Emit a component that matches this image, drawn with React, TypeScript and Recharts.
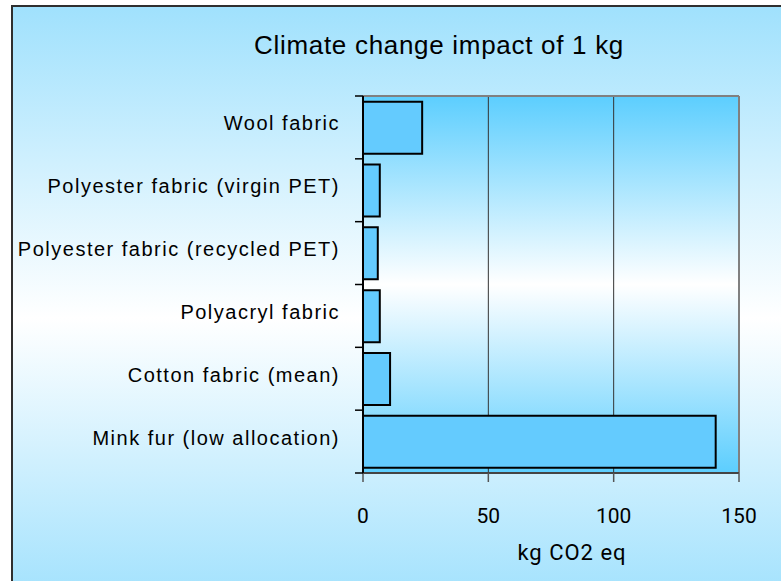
import React from 'react';
import { BarChart, Bar, XAxis, YAxis, CartesianGrid } from 'recharts';

const categories = [
  'Wool fabric',
  'Polyester fabric (virgin PET)',
  'Polyester fabric (recycled PET)',
  'Polyacryl fabric',
  'Cotton fabric (mean)',
  'Mink fur (low allocation)',
];
const values = [23.6, 6.7, 5.9, 6.7, 10.8, 140.7];
const xTicks = [0, 50, 100, 150];
const title = 'Climate change impact of 1 kg';
const xLabel = 'kg CO2 eq';

const data = categories.map((name, i) => ({ name, value: values[i] }));

const LABEL_GAP = 23;
const TICK_LEN = 8;

const YTick = (props: any) => {
  const { x, y, payload, index, visibleTicksCount } = props;
  const half = payload && payload.offset ? payload.offset : 0;
  const axisX = x + LABEL_GAP;
  const isLast = index === (visibleTicksCount ?? 0) - 1;
  return (
    <g>
      <line x1={axisX - TICK_LEN} x2={axisX} y1={y - half} y2={y - half} stroke="#000" strokeWidth={1.5} />
      {isLast && (
        <line x1={axisX - TICK_LEN} x2={axisX} y1={y + half} y2={y + half} stroke="#000" strokeWidth={1.5} />
      )}
      <text
        x={x}
        y={y}
        dy={3}
        textAnchor="end"
        fontSize={20}
        fontFamily="Liberation Sans"
        letterSpacing={1.5}
        fill="#000"
      >
        {payload.value}
      </text>
    </g>
  );
};

const rightEdge = ({ offset }: any) => [offset.left + offset.width];
const topEdge = ({ offset }: any) => [offset.top];

export default function App() {
  return (
    <div
      style={{
        position: 'absolute',
        left: 0,
        top: 0,
        width: 781,
        height: 581,
        overflow: 'hidden',
        background: '#ffffff',
      }}
    >
      <div
        style={{
          position: 'absolute',
          left: 11,
          top: 5,
          width: 800,
          height: 600,
          boxSizing: 'border-box',
          borderLeft: '2px solid #2f2f2f',
          borderTop: '2px solid #2f2f2f',
          background: 'linear-gradient(to bottom, #a0e1fd 0%, #ffffff 52%, #a0e1fd 100%)',
        }}
      />
      <svg width={0} height={0} style={{ position: 'absolute' }}>
        <defs>
          <linearGradient id="plotGrad" x1="0" y1="0" x2="0" y2="1">
            <stop offset="0%" stopColor="#5ccefe" />
            <stop offset="50%" stopColor="#ffffff" />
            <stop offset="100%" stopColor="#5ccefe" />
          </linearGradient>
        </defs>
      </svg>
      <div style={{ position: 'absolute', left: 0, top: 0 }}>
        <BarChart
          layout="vertical"
          width={781}
          height={581}
          data={data}
          margin={{ top: 96, right: 42, bottom: 48, left: 0 }}
          barCategoryGap="9%"
        >
          <CartesianGrid
            horizontal={false}
            vertical={true}
            stroke="#333333"
            strokeWidth={1}
            fill="url(#plotGrad)"
            fillOpacity={1}
          />
          <CartesianGrid
            horizontalCoordinatesGenerator={topEdge}
            verticalCoordinatesGenerator={rightEdge}
            stroke="#808080"
            strokeWidth={2}
            fill="none"
          />
          <XAxis
            type="number"
            domain={[0, 150]}
            ticks={xTicks}
            height={60}
            tickSize={9}
            tickMargin={26}
            tickLine={{ stroke: '#555555', strokeWidth: 1.5 }}
            axisLine={{ stroke: '#444444', strokeWidth: 2 }}
            tick={{ fontSize: 21, fontFamily: 'Roboto', fill: '#000' }}
            interval={0}
          />
          <YAxis
            type="category"
            dataKey="name"
            width={363}
            tickLine={false}
            axisLine={{ stroke: '#000000', strokeWidth: 2 }}
            tickSize={0}
            tickMargin={LABEL_GAP}
            tick={<YTick />}
            interval={0}
          />
          <Bar
            dataKey="value"
            fill="#64cbfe"
            stroke="#000000"
            strokeWidth={2}
            isAnimationActive={false}
          />
        </BarChart>
      </div>
      <svg
        width={781}
        height={581}
        style={{ position: 'absolute', left: 0, top: 0, pointerEvents: 'none' }}
      >
        <text
          x={439}
          y={54}
          textAnchor="middle"
          fontSize={26}
          fontFamily="Liberation Sans"
          letterSpacing={0.7}
          fill="#000"
        >
          {title}
        </text>
        <text
          x={572}
          y={560}
          textAnchor="middle"
          fontSize={22}
          fontFamily="Roboto"
          letterSpacing={1}
          fill="#000"
        >
          {xLabel}
        </text>
      </svg>
    </div>
  );
}
